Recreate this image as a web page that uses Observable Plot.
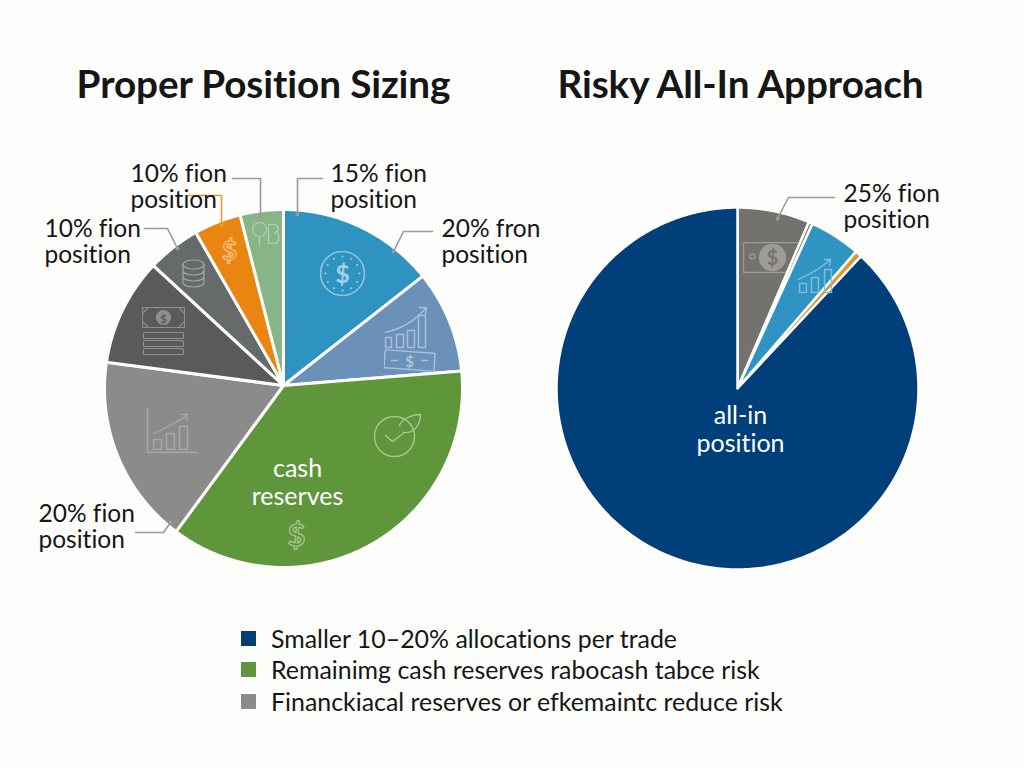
<!DOCTYPE html>
<html><head><meta charset="utf-8">
<script src="https://cdn.jsdelivr.net/npm/d3@7"></script>
<script src="https://cdn.jsdelivr.net/npm/@observablehq/plot@0.6"></script>
<style>
html,body{margin:0;padding:0;background:#fdfdfb;width:1024px;height:768px;overflow:hidden;font-family:Lato,sans-serif;color:#161616;font-variant-ligatures:none}
#titles{position:relative;height:110px}
#titles div{position:absolute;top:60px;font-size:38.7px;line-height:46px;font-weight:700;white-space:nowrap;transform:translateX(-50%);letter-spacing:-.1px}
#charts{display:flex;height:490px}
#charts svg{display:block;background:transparent;font-variant-ligatures:none}
#legend{position:relative;height:168px}
#legend .row{position:absolute;left:241px;display:flex;align-items:center;height:30px;font-size:24.9px;white-space:nowrap}
#legend i{display:inline-block;width:15px;height:15px;margin-right:15px}
</style></head><body>
<div id="titles"></div><div id="charts"></div><div id="legend"></div>
<script>
const chartTitles = ["Proper Position Sizing", "Risky All-In Approach"];

const leftNames  = ["blue","slate","green","gray","dark","coins","orange","sage"];
const leftValues = [14.2, 9.25, 36.8, 17.1, 9.7, 4.8, 4.25, 3.9];
const leftColors = ["#2e93c0","#6b91b8","#5f963c","#8b8b89","#5a5a58","#676a6b","#ea8512","#87b587"];

const rightNames  = ["gray","sliver","blue","orange","navy"];
const rightValues = [6.45, 0.35, 4.56, 0.6, 88.04];
const rightColors = ["#74726f","#74726f","#2f94c2","#d49a30","#003f7a"];

const legendLabels = ["Smaller 10–20% allocations per trade","Remainimg cash reserves rabocash tabce risk","Financkiacal reserves or efkemaintc reduce risk"];
const legendColors = ["#003f6f","#5f963c","#8b8b89"];

// page-pixel placement of the two pies
const CY = 388, TOP = 110, W = 512, H = 490;

const leftLabels = [
  {t:"10% fion\nposition", x:130, y:186},
  {t:"15% fion\nposition", x:330, y:186},
  {t:"20% fron\nposition", x:441, y:241},
  {t:"10% fion\nposition", x:44,  y:241},
  {t:"20% fion\nposition", x:38,  y:526},
];
const rightLabels = [{t:"25% fion\nposition", x:843, y:206}];

const leftLeaders = [
  {c:"#9a9a98", p:[[322,178],[297,178],[297,214]]},
  {c:"#9a9a98", p:[[432,231],[403,231],[393,251]]},
  {c:"#9a9a98", p:[[232,178],[260,178],[260,216]]},
  {c:"#e0a030", p:[[188,195],[221,195],[221,225]]},
  {c:"#9a9a98", p:[[144,228],[167,228],[177,248]]},
  {c:"#9a9a98", p:[[135,532],[163,532],[170,522]]},
];
const rightLeaders = [{c:"#9a9a98", p:[[834,197],[788,197],[777,218]]}];

const svg = (w,h,body)=>"data:image/svg+xml,"+encodeURIComponent(
  `<svg xmlns="http://www.w3.org/2000/svg" width="${w}" height="${h}" viewBox="0 0 ${w} ${h}" fill="none" stroke-linecap="round" stroke-linejoin="round">${body}</svg>`);
const ring = Array.from({length:12},(_, i)=>{const a=i*Math.PI/6;return `<circle cx="${23+17*Math.sin(a)}" cy="${23+17*Math.cos(a)}" r="1" fill="#9fd0e6"/>`}).join("");
const dollar = (x,y,s,c,extra="")=>`<text x="${x}" y="${y}" text-anchor="middle" font-family="Lato,sans-serif" font-weight="700" font-size="${s}" fill="${c}" ${extra}>$</text>`;

const leftIcons = [
  {x:342,y:273,w:46,h:46,src:svg(46,46,`<circle cx="23" cy="23" r="22" stroke="#8fc6df" stroke-width="1.6"/>${ring}${dollar(23,32,25,"#9fd0e6")}`)},
  {x:410,y:338,w:54,h:68,src:svg(54,68,`<g stroke="#a9c0d8" stroke-width="1.4"><path d="M2 28C18 24 32 16 42 4M36 3l7 0-1 7"/><rect x="2" y="33" width="6" height="10"/><rect x="13" y="30" width="7" height="13"/><rect x="24" y="26" width="7" height="17"/><rect x="35" y="11" width="7" height="32"/><rect x="1" y="47" width="50" height="18" rx="1" transform="rotate(4 26 56)"/><path d="M8 56h6M38 56h6"/></g>${dollar(26,62,15,"#a9c0d8")}`)},
  {x:163,y:331,w:44,h:50,src:svg(44,50,`<g stroke="#8f8f8d" stroke-width="1.2"><rect x="1" y="1" width="42" height="20"/><path d="M2 6l4-4M38 2l4 4M2 16l4 4M38 20l4-4"/><circle cx="22" cy="11" r="7" fill="#8f8f8d"/><rect x="2" y="26" width="40" height="6" rx="1"/><rect x="2" y="34" width="40" height="6" rx="1"/><rect x="2" y="42" width="40" height="6" rx="1"/></g>${dollar(22,16,12,"#5a5a58")}`)},
  {x:193,y:273,w:24,h:30,src:svg(24,30,`<g stroke="#a3a5a6" stroke-width="1.2"><ellipse cx="12" cy="6" rx="10.5" ry="4.5"/><path d="M1.5 6v18c0 6 21 6 21 0V6M1.5 12c0 6 21 6 21 0M1.5 18c0 6 21 6 21 0"/></g>`)},
  {x:229,y:250,w:18,h:28,src:svg(18,28,dollar(9,23,26,"none",'stroke="#f6c27e" stroke-width="1.3"'))},
  {x:265,y:233,w:30,h:24,src:svg(30,24,`<g stroke="#b3d2b3" stroke-width="1.2"><circle cx="9" cy="8" r="7"/><path d="M9 15v8M18 3h5c6 0 6 8 1 8 6 0 6 11-1 11h-5z"/></g>`)},
  {x:172,y:430,w:54,h:46,src:svg(54,46,`<g stroke="#a8a8a6" stroke-width="1.4"><path d="M2 1v44h50"/><rect x="8" y="32" width="8" height="10"/><rect x="21" y="26" width="8" height="16"/><rect x="34" y="19" width="8" height="23"/><path d="M8 26C18 22 28 16 42 8M36 7l6 0-1 6"/></g>`)},
  {x:398,y:434,w:50,h:46,src:svg(50,46,`<g stroke="#a9c792" stroke-width="1.4"><circle cx="21" cy="25" r="20"/><path d="M12 24l7 6 12-9M26 14c2-6 12-11 21-11 0 10-6 19-17 18"/></g>`)},
  {x:296,y:535,w:20,h:34,src:svg(20,34,dollar(10,27,31,"none",'stroke="#a9c792" stroke-width="1.2"'))},
];
const rightIcons = [
  {x:771,y:257,w:58,h:32,src:svg(58,32,`<g stroke="#9d9b98" stroke-width="1.4"><path d="M56 1H1v30h42"/><circle cx="10" cy="15" r="2.5"/><circle cx="30" cy="16" r="13" fill="#9d9b98"/></g>${dollar(30,23,20,"#74726f")}`)},
  {x:815,y:275,w:36,h:36,src:svg(36,36,`<g stroke="#7fbddb" stroke-width="1.4"><path d="M1 22C12 17 22 12 33 2M27 2l6 0-1 6"/><rect x="2" y="26" width="7" height="9"/><rect x="14" y="20" width="7" height="15"/><rect x="27" y="12" width="7" height="23"/></g>`)},
];

const leftInside  = [{t:"cash\nreserves", x:297, y:482}];
const rightInside = [{t:"all-in\nposition", x:740, y:429}];

d3.select("#titles").selectAll("div").data(chartTitles).join("div")
  .style("left",(d,i)=>[263.5,740.5][i]+"px").text(d=>d);

function pie(names, values, colors, cx, offset, R, apexY, sw, labels, leaders, icons, inside) {
  const px = x => x - cx, py = y => y - CY;
  const slices = [];
  d3.pie().sort(null)(values).forEach((s,i)=>{
    const n = Math.ceil((s.endAngle-s.startAngle)/0.01);
    slices.push({name:names[i],color:colors[i],x:0,y:apexY});
    for (let k=0;k<=n;k++){
      const a = s.startAngle+(s.endAngle-s.startAngle)*k/n;
      slices.push({name:names[i],color:colors[i],x:R*Math.sin(a),y:-R*Math.cos(a)});
    }
    slices.push({name:names[i],color:colors[i],x:0,y:apexY});
  });
  const lead = leaders.flatMap((l,i)=>l.p.map(p=>({i,c:l.c,x:px(p[0]),y:py(p[1])})));
  const ends = leaders.map(l=>{const p=l.p[l.p.length-1];return {c:l.c,x:px(p[0]),y:py(p[1])}});
  const xo = cx - offset;
  return Plot.plot({
    width:W,height:H,margin:0,
    style:{background:"transparent",overflow:"visible"},
    x:{domain:[-xo,W-xo],range:[0,W],axis:null},
    y:{domain:[TOP-CY,TOP+H-CY],range:[0,H],axis:null},
    color:{type:"identity"},
    marks:[
      Plot.line(slices,{x:"x",y:"y",z:"name",fill:"color",stroke:"#fdfdfb",strokeWidth:sw,curve:"linear"}),
      Plot.image(icons,{x:d=>px(d.x),y:d=>py(d.y),width:"w",height:"h",src:"src"}),
      Plot.line(lead,{x:"x",y:"y",z:"i",stroke:"c",strokeWidth:1.6,curve:"linear"}),
      Plot.dot(ends,{x:"x",y:"y",r:2,fill:"c"}),
      Plot.text(labels,{x:d=>px(d.x),y:d=>py(d.y),text:"t",textAnchor:"start",fontSize:24.5,fontFamily:"Lato,sans-serif",fill:"#161616",lineHeight:1.09}),
      Plot.text(inside,{x:d=>px(d.x),y:d=>py(d.y),text:"t",fontSize:25,fontFamily:"Lato,sans-serif",fill:"#fff",lineHeight:1.12}),
    ]
  });
}
const charts = document.getElementById("charts");
charts.append(pie(leftNames,leftValues,leftColors,283,0,179,-3,3,leftLabels,leftLeaders,leftIcons,leftInside));
charts.append(pie(rightNames,rightValues,rightColors,737,512,181,0,2.5,rightLabels,rightLeaders,rightIcons,rightInside));

d3.select("#legend").selectAll(".row").data(legendLabels).join("div").attr("class","row")
  .style("top",(d,i)=>[23,54,86][i]+"px")
  .html((d,i)=>`<i style="background:${legendColors[i]}"></i>`)
  .append("span").text(d=>d);
</script>
</body></html>
